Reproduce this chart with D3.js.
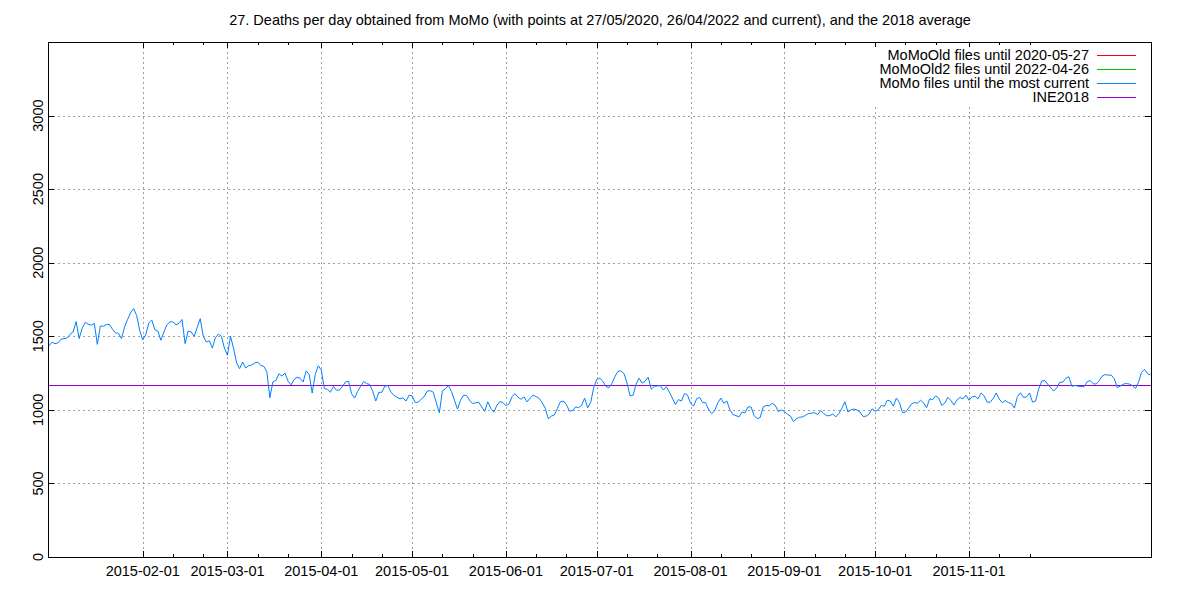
<!DOCTYPE html>
<html>
<head>
<meta charset="utf-8">
<script src="https://cdn.jsdelivr.net/npm/d3@7"></script>
<style>
  body { margin: 0; background: #fff; }
  svg { font-family: "Liberation Sans", Arial, sans-serif; }
</style>
</head>
<body>
<svg id="chart" width="1200" height="600"></svg>
<script>
// daily deaths, MoMo, 2015-01-01 .. 2015-12-31
var startDay = "2015-01-01";
var momoValues = [
    1435,1460,1450,1455,1480,1484,1488,1514,1530,1600,
    1484,1555,1595,1582,1575,1588,1445,1570,1568,1580,
    1580,1548,1523,1520,1484,1564,1615,1660,1688,1640,
    1540,1475,1510,1590,1610,1545,1535,1473,1530,1578,
    1598,1598,1578,1588,1614,1450,1536,1530,1500,1560,
    1620,1500,1461,1470,1420,1490,1515,1500,1420,1371,
    1500,1420,1320,1280,1325,1285,1300,1305,1318,1325,
    1302,1296,1260,1082,1190,1200,1245,1230,1250,1195,
    1170,1205,1222,1215,1189,1265,1240,1114,1240,1300,
    1270,1145,1140,1120,1160,1134,1134,1160,1190,1195,
    1110,1080,1125,1160,1192,1178,1173,1125,1060,1118,
    1120,1160,1166,1120,1100,1085,1075,1082,1060,1100,
    1095,1050,1052,1073,1090,1128,1130,1120,1048,980,
    1127,1145,1165,1125,1065,1005,1065,1100,1098,1065,
    1043,1048,1052,1020,990,1055,1010,984,1030,1057,
    1048,1030,1038,1090,1110,1085,1072,1088,1054,1080,
    1100,1090,1078,1048,1010,940,957,965,1010,1055,
    1060,1035,991,995,1020,1015,1030,1080,1014,1050,
    1150,1207,1215,1195,1160,1150,1179,1225,1262,1265,
    1247,1184,1095,1098,1175,1215,1182,1195,1222,1140,
    1160,1162,1165,1135,1157,1120,1080,1036,1070,1060,
    1111,1100,1045,1025,1075,1085,1050,1048,1000,975,
    995,1048,1080,1045,1060,1000,968,961,952,985,
    980,1020,1020,962,940,948,1020,1030,1028,1045,
    1030,988,1000,990,970,958,920,940,950,952,
    963,975,978,980,968,995,975,960,961,972,
    952,975,1010,1055,985,1000,1005,1000,985,955,
    957,972,1007,991,1000,1030,1025,1065,1060,1025,
    1080,1050,982,984,1010,1040,1050,1045,1065,1048,
    1015,1075,1070,1095,1080,1030,1045,1085,1065,1033,
    1066,1084,1075,1100,1065,1088,1093,1075,1115,1095,
    1052,1052,1078,1115,1073,1048,1064,1050,1043,1012,
    1090,1116,1085,1088,1115,1052,1060,1140,1195,1200,
    1175,1150,1128,1150,1188,1188,1215,1225,1160,1166,
    1161,1158,1157,1190,1200,1178,1175,1198,1230,1240,
    1236,1236,1212,1150,1162,1175,1179,1175,1165,1145,
    1188,1255,1275,1245,1238
];
var ine2018 = 1170;

var xTickLabels = ["2015-02-01","2015-03-01","2015-04-01","2015-05-01","2015-06-01",
                   "2015-07-01","2015-08-01","2015-09-01","2015-10-01","2015-11-01"];
var xMinorDays = [11, 21];
var yTicks = [0, 500, 1000, 1500, 2000, 2500, 3000];

var legendNames = ["MoMoOld files until 2020-05-27", "MoMoOld2 files until 2022-04-26",
                   "MoMo files until the most current", "INE2018"];
var legendColors = ["#ff0000", "#00c000", "#0080ff", "#9400d3"];

var title = "27. Deaths per day obtained from MoMo (with points at 27/05/2020, 26/04/2022 and current), and the 2018 average";

var parse = d3.timeParse("%Y-%m-%d");
var svg = d3.select("#chart");
var fontSize = 14.5;

var plotLeft = 48, plotRight = 1151, plotTop = 42, plotBottom = 557;

var t0 = parse(startDay);
var data = momoValues.map((v, i) => ({ date: d3.timeDay.offset(t0, i), value: v }));

var x = d3.scaleTime()
    .domain([t0, parse("2015-12-31")])
    .range([plotLeft + 0.9, plotRight - 0.4]);
var y = d3.scaleLinear().domain([0, 3500]).range([plotBottom, plotTop]);

// grid
var majorDates = xTickLabels.map(parse);
var grid = svg.append("g")
    .attr("stroke", "#a0a0a0")
    .attr("stroke-width", 1)
    .attr("stroke-dasharray", "2,3")
    .attr("shape-rendering", "crispEdges");
majorDates.forEach(d => {
    grid.append("line")
        .attr("x1", Math.round(x(d)) + 0.5).attr("x2", Math.round(x(d)) + 0.5)
        .attr("y1", plotTop).attr("y2", plotBottom);
});
yTicks.slice(1).forEach(v => {
    grid.append("line")
        .attr("x1", plotLeft).attr("x2", plotRight)
        .attr("y1", Math.round(y(v)) + 0.5).attr("y2", Math.round(y(v)) + 0.5);
});

// minor x ticks
var minorDates = [];
majorDates.forEach(d => {
    xMinorDays.forEach(day => minorDates.push(new Date(d.getFullYear(), d.getMonth(), day)));
});

var ticks = svg.append("g")
    .attr("stroke", "#000")
    .attr("shape-rendering", "crispEdges");
majorDates.forEach(d => {
    var px = Math.round(x(d)) + 0.5;
    ticks.append("line").attr("x1", px).attr("x2", px).attr("y1", plotBottom).attr("y2", plotBottom - 6);
    ticks.append("line").attr("x1", px).attr("x2", px).attr("y1", plotTop).attr("y2", plotTop + 6);
});
minorDates.forEach(d => {
    var px = Math.round(x(d)) + 0.5;
    ticks.append("line").attr("x1", px).attr("x2", px).attr("y1", plotBottom).attr("y2", plotBottom - 3);
    ticks.append("line").attr("x1", px).attr("x2", px).attr("y1", plotTop).attr("y2", plotTop + 3);
});
yTicks.forEach(v => {
    var py = Math.round(y(v)) + 0.5;
    ticks.append("line").attr("x1", plotLeft).attr("x2", plotLeft + 6).attr("y1", py).attr("y2", py);
    ticks.append("line").attr("x1", plotRight).attr("x2", plotRight - 6).attr("y1", py).attr("y2", py);
});

// tick labels
svg.append("g").selectAll("text")
    .data(majorDates)
    .join("text")
    .attr("x", d => x(d))
    .attr("y", 576)
    .attr("text-anchor", "middle")
    .attr("font-size", fontSize)
    .text((d, i) => xTickLabels[i]);

svg.append("g").selectAll("text")
    .data(yTicks)
    .join("text")
    .attr("transform", d => "translate(43," + y(d) + ") rotate(-90)")
    .attr("text-anchor", "middle")
    .attr("font-size", fontSize)
    .text(d => d);

// INE2018 average
svg.append("line")
    .attr("x1", plotLeft).attr("x2", plotRight)
    .attr("y1", Math.round(y(ine2018)) + 0.5).attr("y2", Math.round(y(ine2018)) + 0.5)
    .attr("stroke", legendColors[3])
    .attr("shape-rendering", "crispEdges");

// MoMo line
var line = d3.line()
    .x(d => x(d.date))
    .y(d => y(d.value));
svg.append("path")
    .datum(data)
    .attr("fill", "none")
    .attr("stroke", legendColors[2])
    .attr("stroke-width", 1)
    .attr("d", line);

// legend (opaque)
svg.append("rect")
    .attr("x", 870).attr("y", 47).attr("width", 275).attr("height", 57)
    .attr("fill", "#fff");
legendNames.forEach((name, i) => {
    var ly = 55 + i * 14;
    svg.append("text")
        .attr("x", 1089).attr("y", ly + 5)
        .attr("text-anchor", "end")
        .attr("font-size", fontSize)
        .text(name);
    svg.append("line")
        .attr("x1", 1097).attr("x2", 1136)
        .attr("y1", ly + 0.5).attr("y2", ly + 0.5)
        .attr("stroke", legendColors[i])
        .attr("shape-rendering", "crispEdges");
});

// frame
svg.append("rect")
    .attr("x", plotLeft + 0.5).attr("y", plotTop + 0.5)
    .attr("width", plotRight - plotLeft).attr("height", plotBottom - plotTop)
    .attr("fill", "none")
    .attr("stroke", "#000")
    .attr("shape-rendering", "crispEdges");

svg.append("text")
    .attr("x", 600).attr("y", 25)
    .attr("text-anchor", "middle")
    .attr("font-size", fontSize)
    .text(title);
</script>
</body>
</html>
